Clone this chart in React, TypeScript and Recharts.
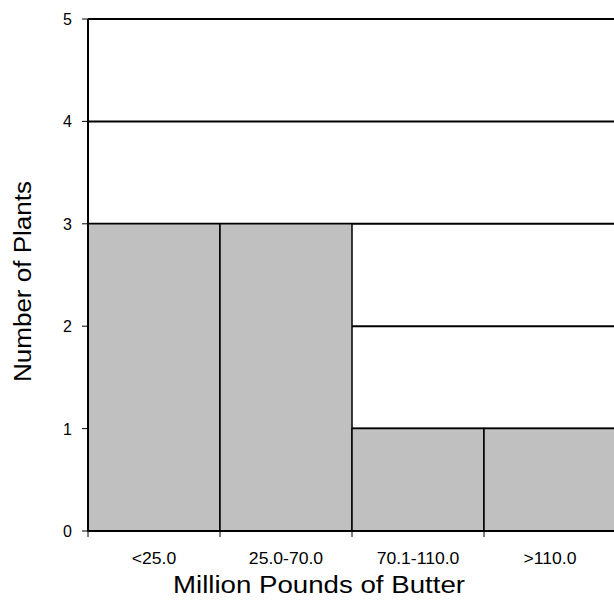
import { BarChart, Bar, XAxis, YAxis, CartesianGrid } from 'recharts'

const categories = ['<25.0', '25.0-70.0', '70.1-110.0', '>110.0']
const plants = [3, 3, 1, 1]
const yTicks = [0, 1, 2, 3, 4, 5]

const data = categories.map((name, i) => ({ name, plants: plants[i] }))

const W = 620
const H = 603
const LEFT = 88
const RIGHT = 4
const BAND = (W - LEFT - RIGHT) / categories.length
const FONT = 'Liberation Sans, Arial, sans-serif'

function XTick(props: any) {
  const { x, y, payload } = props
  return (
    <g>
      <line x1={x - BAND / 2} y1={y - 8} x2={x - BAND / 2} y2={y - 2} stroke="#000" strokeWidth={1} />
      <text
        transform={`translate(${x},${y + 25}) scale(1.1,1)`}
        textAnchor="middle"
        fontSize={16}
        fill="#000"
        fontFamily={FONT}
      >
        {payload.value}
      </text>
    </g>
  )
}

function YTick(props: any) {
  const { x, y, payload } = props
  return (
    <text x={x} y={y + 6} textAnchor="end" fontSize={16} fill="#000" fontFamily={FONT}>
      {payload.value}
    </text>
  )
}

function XTitle(props: any) {
  const { x, y, width } = props.viewBox
  return (
    <text
      x={x + width / 2 - 179}
      y={y + 62}
      fontSize={23}
      fill="#000"
      fontFamily={FONT}
      textLength={292}
      lengthAdjust="spacingAndGlyphs"
    >
      Million Pounds of Butter
    </text>
  )
}

function YTitle(props: any) {
  const { y, height } = props.viewBox
  const cy = y + height / 2 + 7
  return (
    <text
      transform={`translate(31,${cy}) rotate(-90)`}
      x={-100}
      y={0}
      fontSize={23}
      fill="#000"
      fontFamily={FONT}
      textLength={201}
      lengthAdjust="spacingAndGlyphs"
    >
      Number of Plants
    </text>
  )
}

export default function App() {
  return (
    <div style={{ position: 'absolute', left: 0, top: 0, width: 614, height: 603, overflow: 'hidden', background: '#fff' }}>
      <BarChart
        width={W}
        height={H}
        data={data}
        margin={{ top: 19, right: RIGHT, left: 0, bottom: 0 }}
        barCategoryGap={0}
        style={{ fontFamily: FONT }}
      >
        <CartesianGrid vertical={false} stroke="#000" strokeWidth={2} />
        <XAxis
          dataKey="name"
          height={72}
          axisLine={{ stroke: '#000', strokeWidth: 2 }}
          tickLine={false}
          tick={<XTick />}
          interval={0}
          label={<XTitle />}
        />
        <YAxis
          width={LEFT}
          domain={[0, 5]}
          ticks={yTicks}
          interval={0}
          axisLine={{ stroke: '#000', strokeWidth: 2 }}
          tickLine={{ stroke: '#000' }}
          tickSize={6}
          tickMargin={10}
          tick={<YTick />}
          label={<YTitle />}
        />
        <Bar dataKey="plants" fill="#c0c0c0" stroke="#000" strokeWidth={1.5} isAnimationActive={false} />
      </BarChart>
    </div>
  )
}
